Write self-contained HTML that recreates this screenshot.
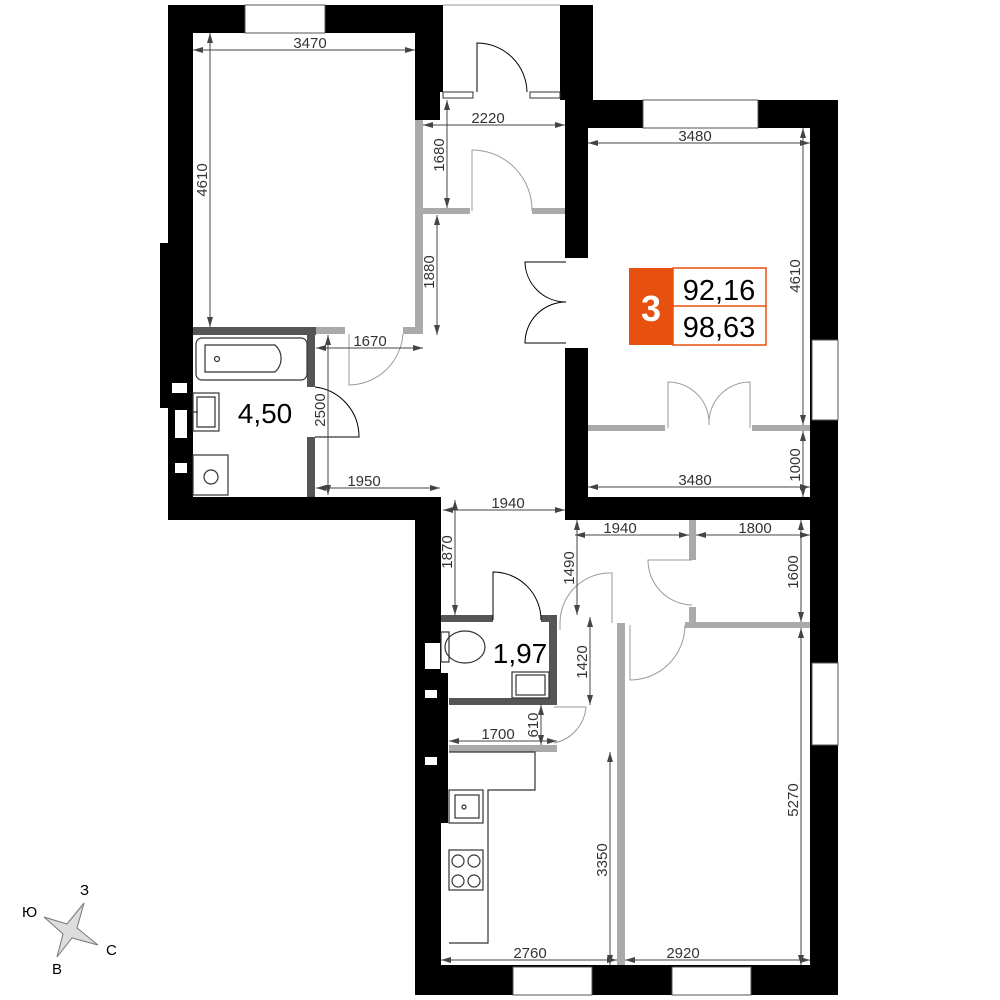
<!DOCTYPE html>
<html><head><meta charset="utf-8"><style>
html,body{margin:0;padding:0;background:#fff}
svg{display:block}
.d{font-family:"Liberation Sans",sans-serif;font-size:15px;fill:#333;text-anchor:middle}
.dl{stroke:#444;stroke-width:1;fill:none}
</style></head><body>
<svg width="1000" height="1000" viewBox="0 0 1000 1000">
<defs>
<marker id="a" viewBox="0 0 10 10" refX="10" refY="5" markerWidth="10" markerHeight="10" orient="auto-start-reverse" markerUnits="userSpaceOnUse"><path d="M0,2 L10,5 L0,8 z" fill="#444"/></marker>
</defs>
<g fill="#000">
<rect x="168" y="5" width="272" height="28"/>
<rect x="168" y="5" width="25" height="515"/>
<rect x="160" y="243" width="33" height="165"/>
<rect x="415" y="5" width="28" height="87"/>
<rect x="415" y="92" width="25" height="28"/>
<rect x="560" y="5" width="33" height="95"/>
<rect x="565" y="100" width="273" height="28"/>
<rect x="810" y="100" width="28" height="895"/>
<rect x="565" y="100" width="23" height="158"/>
<rect x="565" y="348" width="23" height="172"/>
<rect x="565" y="497" width="273" height="23"/>
<rect x="168" y="497" width="272" height="23"/>
<rect x="415" y="497" width="26" height="498"/>
<rect x="415" y="673" width="33" height="150"/>
<rect x="415" y="965" width="423" height="30"/>
</g>
<rect x="443" y="5" width="117" height="87" fill="#fff"/>
<line x1="443" y1="5" x2="560" y2="5" stroke="#999" stroke-width="1"/>
<rect x="443" y="92" width="30" height="6" fill="#fff" stroke="#333"/>
<rect x="530" y="92" width="30" height="6" fill="#fff" stroke="#333"/>
<path d="M477,92 L477,43 A50,50 0 0 1 527,92" fill="none" stroke="#000"/>
<g fill="#fff" stroke="#555" stroke-width="1">
<rect x="245" y="5" width="80" height="28"/>
<rect x="643" y="100" width="115" height="28"/>
<rect x="812" y="340" width="26" height="80"/>
<rect x="812" y="663" width="26" height="82"/>
<rect x="513" y="967" width="79" height="28"/>
<rect x="672" y="967" width="79" height="28"/>
</g>
<g fill="#fff">
<rect x="172" y="383" width="15" height="10"/><rect x="175" y="410" width="12" height="28"/>
<rect x="175" y="463" width="12" height="10"/>
<rect x="425" y="643" width="15" height="26"/><rect x="425" y="690" width="12" height="8"/>
<rect x="425" y="757" width="12" height="8"/>
</g>
<g fill="#aaa">
<rect x="415" y="120" width="8" height="212"/>
<rect x="423" y="208" width="47" height="6"/>
<rect x="532" y="208" width="33" height="6"/>
<rect x="316" y="327" width="29" height="7"/>
<rect x="403" y="327" width="20" height="7"/>
<rect x="588" y="425" width="77" height="6"/>
<rect x="752" y="425" width="58" height="6"/>
<rect x="689" y="520" width="7" height="40"/>
<rect x="689" y="607" width="7" height="18"/>
<rect x="685" y="622" width="125" height="6"/>
<rect x="617" y="623" width="8" height="342"/>
<rect x="449" y="745" width="108" height="7"/>
</g>
<g fill="#555">
<rect x="193" y="327" width="123" height="8"/>
<rect x="307" y="327" width="8" height="60"/>
<rect x="307" y="437" width="8" height="60"/>
<rect x="441" y="615" width="52" height="7"/>
<rect x="541" y="615" width="16" height="7"/>
<rect x="549" y="615" width="8" height="90"/>
<rect x="449" y="698" width="108" height="7"/>
</g>
<g fill="none" stroke="#999" stroke-width="1">
<path d="M472,211 L472,150 A60,60 0 0 1 532,211"/>
<path d="M349,334 L349,385 A55,55 0 0 0 403,334"/>
<path d="M668,428 L668,382 A41,41 0 0 1 709,425 M750,428 L750,382 A41,41 0 0 0 709,425"/>
<path d="M692,560 L648,560 A45,45 0 0 0 692,605"/>
<path d="M612,623 L612,573 A50,50 0 0 0 560,623 L560,630"/>
<path d="M630,625 L630,680 A55,55 0 0 0 685,625"/>
<path d="M554,707 L586,707 A40,40 0 0 1 554,743"/>
</g>
<g fill="none" stroke="#000" stroke-width="1">
<path d="M315,387 A50,50 0 0 1 359,437 L315,437"/>
<path d="M493,620 L493,572 A48,48 0 0 1 541,620"/>
<path d="M566,262 L525,262 A41,41 0 0 0 566,302"/>
<path d="M566,343 L525,343 A41,41 0 0 1 566,302"/>
</g>
<g fill="none" stroke="#333" stroke-width="1.2">
<rect x="196" y="338" width="111" height="42" rx="6"/>
<path d="M205,345 L275,345 A18,18 0 0 1 275,372 L205,372 z"/>
<circle cx="217" cy="359" r="2.5"/>
<rect x="193" y="393" width="26" height="38"/><path d="M197,397h18v30h-18z M193,412h5"/>
<rect x="193" y="455" width="35" height="40"/><circle cx="211" cy="477" r="7"/>
<ellipse cx="465" cy="647" rx="20" ry="16"/><rect x="441" y="632" width="8" height="30"/>
<rect x="512" y="672" width="37" height="26"/><rect x="516" y="675" width="29" height="20"/>
<path d="M449,752 L535,752 L535,790 L488,790 L488,943 L449,943"/>
<rect x="449" y="790" width="34" height="33"/><rect x="455" y="795" width="24" height="23"/>
<circle cx="464" cy="807" r="2"/>
<rect x="449" y="850" width="34" height="40"/>
<circle cx="458" cy="861" r="6"/><circle cx="474" cy="861" r="6"/>
<circle cx="458" cy="881" r="6"/><circle cx="474" cy="881" r="6"/>
</g>
<rect x="629" y="268" width="44" height="77" fill="#e8500f"/>
<rect x="673" y="268" width="93" height="77" fill="#fff" stroke="#e8500f" stroke-width="1.5"/>
<line x1="673" y1="306" x2="766" y2="306" stroke="#e8500f" stroke-width="1.5"/>
<text x="651" y="321" font-family="Liberation Sans,sans-serif" font-weight="bold" font-size="36" fill="#fff" text-anchor="middle">3</text>
<text x="719" y="300" font-family="Liberation Sans,sans-serif" font-size="29" text-anchor="middle">92,16</text>
<text x="719" y="337" font-family="Liberation Sans,sans-serif" font-size="29" text-anchor="middle">98,63</text>
<text x="265" y="423" font-family="Liberation Sans,sans-serif" font-size="28" text-anchor="middle">4,50</text>
<text x="520" y="663" font-family="Liberation Sans,sans-serif" font-size="28" text-anchor="middle">1,97</text>
<g class="dl" marker-start="url(#a)" marker-end="url(#a)">
<line x1="193" y1="50" x2="415" y2="50"/>
<line x1="210" y1="33" x2="210" y2="327"/>
<line x1="423" y1="125" x2="565" y2="125"/>
<line x1="447" y1="100" x2="447" y2="208"/>
<line x1="437" y1="215" x2="437" y2="335"/>
<line x1="316" y1="348" x2="423" y2="348"/>
<line x1="328" y1="335" x2="328" y2="495"/>
<line x1="316" y1="488" x2="440" y2="488"/>
<line x1="443" y1="510" x2="565" y2="510"/>
<line x1="455" y1="500" x2="455" y2="615"/>
<line x1="588" y1="143" x2="810" y2="143"/>
<line x1="803" y1="128" x2="803" y2="425"/>
<line x1="803" y1="431" x2="803" y2="497"/>
<line x1="588" y1="487" x2="810" y2="487"/>
<line x1="575" y1="535" x2="689" y2="535"/>
<line x1="696" y1="535" x2="810" y2="535"/>
<line x1="577" y1="520" x2="577" y2="615"/>
<line x1="801" y1="520" x2="801" y2="622"/>
<line x1="590" y1="617" x2="590" y2="705"/>
<line x1="541" y1="705" x2="541" y2="745"/>
<line x1="449" y1="741" x2="557" y2="741"/>
<line x1="610" y1="752" x2="610" y2="965"/>
<line x1="801" y1="628" x2="801" y2="965"/>
<line x1="441" y1="960" x2="617" y2="960"/>
<line x1="625" y1="960" x2="810" y2="960"/>
</g>
<g class="d">
<text x="310" y="48">3470</text>
<text x="488" y="123">2220</text>
<text x="370" y="346">1670</text>
<text x="364" y="486">1950</text>
<text x="508" y="508">1940</text>
<text x="695" y="141">3480</text>
<text x="695" y="485">3480</text>
<text x="620" y="533">1940</text>
<text x="755" y="533">1800</text>
<text x="498" y="739">1700</text>
<text x="530" y="958">2760</text>
<text x="683" y="958">2920</text>
<text transform="translate(207,180) rotate(-90)">4610</text>
<text transform="translate(444,155) rotate(-90)">1680</text>
<text transform="translate(434,272) rotate(-90)">1880</text>
<text transform="translate(325,410) rotate(-90)">2500</text>
<text transform="translate(452,552) rotate(-90)">1870</text>
<text transform="translate(800,276) rotate(-90)">4610</text>
<text transform="translate(800,465) rotate(-90)">1000</text>
<text transform="translate(574,568) rotate(-90)">1490</text>
<text transform="translate(798,572) rotate(-90)">1600</text>
<text transform="translate(587,662) rotate(-90)">1420</text>
<text transform="translate(538,725) rotate(-90)">610</text>
<text transform="translate(607,860) rotate(-90)">3350</text>
<text transform="translate(798,800) rotate(-90)">5270</text>
</g>
<path d="M84,903 L77,928 L98,945 L72,938 L57,957 L63,934 L44,917 L67,924 z" fill="#ddd" stroke="#777" stroke-width="1"/>
<g font-family="Liberation Sans,sans-serif" font-size="15" fill="#000">
<text x="80" y="895">З</text><text x="22" y="917">Ю</text>
<text x="106" y="955">С</text><text x="52" y="974">В</text>
</g>
</svg>
</body></html>
